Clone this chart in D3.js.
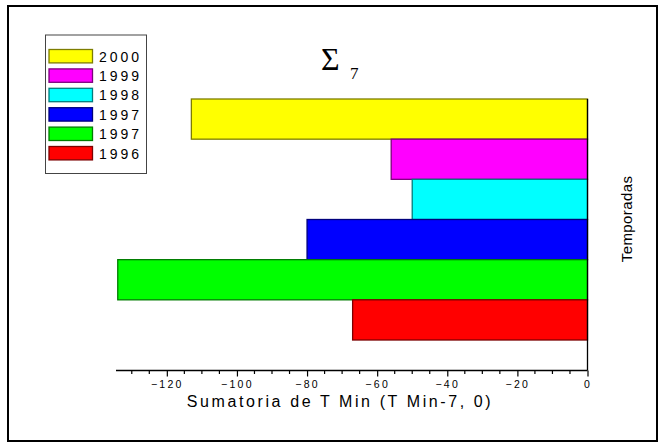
<!DOCTYPE html>
<html>
<head>
<meta charset="utf-8">
<script src="https://cdn.jsdelivr.net/npm/d3@7"></script>
<style>
  body { margin: 0; background: #fff; }
  text { font-family: "Liberation Sans", Arial, sans-serif; }
</style>
</head>
<body>
<svg></svg>
<script>
// seasons, top to bottom as drawn
var seasons = ["2000", "1999", "1998", "1997", "1997", "1996"];
var sums = [-113, -56, -50, -80, -134, -67];
var colours = ["#ffff00", "#ff00ff", "#00ffff", "#0000ff", "#00ff00", "#ff0000"];
var xTicks = [-120, -100, -80, -60, -40, -20, 0];

drawChart = function(){
    var svgWidth = 666;
    var svgHeight = 443;

    var svg = d3.select('svg')
        .attr("width", svgWidth)
        .attr("height", svgHeight);

    // outer frame
    svg.append("rect")
        .attr("x", 8).attr("y", 6)
        .attr("width", 649).attr("height", 435)
        .attr("fill", "white")
        .attr("stroke", "black")
        .attr("stroke-width", 2);

    var plotLeft = 116, plotRight = 587.5;
    var plotTop = 99, barsBottom = 340, axisY = 370.5;

    var x = d3.scaleLinear()
        .domain([-134.5, 0])
        .range([plotLeft, plotRight]);

    var y = d3.scaleBand()
        .domain(d3.range(seasons.length))
        .range([plotTop, barsBottom])
        .padding(0);

    // bars
    svg.append("g")
        .selectAll(null)
        .data(sums)
        .enter()
        .append("rect")
        .attr("x", function(d){ return x(d); })
        .attr("y", function(d, i){ return y(i); })
        .attr("width", function(d){ return x(0) - x(d); })
        .attr("height", y.bandwidth())
        .attr("fill", function(d, i){ return colours[i]; })
        .attr("stroke", function(d, i){ return d3.color(colours[i]).darker(2).formatHex(); })
        .attr("stroke-width", 1.3);

    // right vertical axis line
    svg.append("line")
        .attr("x1", x(0)).attr("x2", x(0))
        .attr("y1", plotTop).attr("y2", axisY)
        .attr("stroke", "black")
        .attr("stroke-width", 1.3);

    // bottom axis
    var minor = d3.range(-130, 1, 5).filter(function(v){ return v % 20 != 0; });
    var xAxis = svg.append("g")
        .attr("transform", "translate(0," + axisY + ")")
        .call(d3.axisBottom(x).tickValues(xTicks).tickSize(6).tickPadding(4).tickFormat(d3.format("d")));
    xAxis.select(".domain")
        .attr("d", "M" + plotLeft + ",0H" + x(0))
        .attr("stroke-width", 1.3);
    xAxis.selectAll(".tick line").attr("stroke-width", 1.2);
    xAxis.selectAll(".tick text")
        .attr("font-family", "Liberation Sans, Arial, sans-serif")
        .style("font-size", "10.5px")
        .style("letter-spacing", "2.3px")
        .attr("fill", "black");

    xAxis.selectAll(".minor")
        .data(minor)
        .enter()
        .append("line")
        .attr("class", "minor")
        .attr("x1", function(d){ return x(d); })
        .attr("x2", function(d){ return x(d); })
        .attr("y1", 0).attr("y2", 3.5)
        .attr("stroke", "black")
        .attr("stroke-width", 1.2);

    // axis titles
    svg.append("text")
        .attr("x", 340)
        .attr("y", 406.5)
        .attr("text-anchor", "middle")
        .style("font-size", "16px")
        .style("letter-spacing", "2.6px")
        .text("Sumatoria de T Min (T Min-7, 0)");

    svg.append("text")
        .attr("transform", "translate(632,219) rotate(-90)")
        .attr("text-anchor", "middle")
        .style("font-size", "15px")
        .style("letter-spacing", "0.4px")
        .text("Temporadas");

    // title
    var title = svg.append("text")
        .attr("x", 321)
        .attr("y", 70)
        .style("font-family", "Liberation Serif, Times New Roman, serif");
    title.append("tspan")
        .style("font-size", "32px")
        .text("\u03A3");
    title.append("tspan")
        .attr("x", 350)
        .attr("y", 79)
        .style("font-size", "17px")
        .text("7");

    // legend
    var legend = svg.append("g");
    legend.append("rect")
        .attr("x", 45.5).attr("y", 35)
        .attr("width", 101).attr("height", 138.5)
        .attr("fill", "white")
        .attr("stroke", "#444")
        .attr("stroke-width", 1);

    var rows = legend.selectAll(null)
        .data(seasons)
        .enter()
        .append("g")
        .attr("transform", function(d, i){ return "translate(49," + (49.5 + i * 19.4) + ")"; });
    rows.append("rect")
        .attr("width", 43.5)
        .attr("height", 13.4)
        .attr("fill", function(d, i){ return colours[i]; })
        .attr("stroke", function(d, i){ return d3.color(colours[i]).darker(2).formatHex(); })
        .attr("stroke-width", 1.3);
    rows.append("text")
        .attr("x", 50)
        .attr("y", 12)
        .style("font-size", "14px")
        .style("letter-spacing", "3px")
        .text(function(d){ return d; });
}

drawChart()
</script>
</body>
</html>
